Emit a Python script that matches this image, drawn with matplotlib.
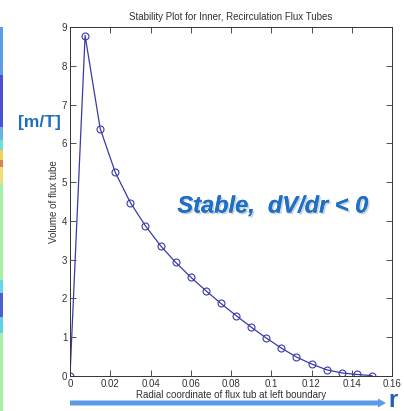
import matplotlib
matplotlib.use("Agg")
import matplotlib.pyplot as plt
from matplotlib.patches import Rectangle, FancyArrow
import matplotlib.patheffects as pe

plt.rcParams["font.family"] = ["Liberation Sans", "DejaVu Sans"]

# Data
r_vals = [0.0, 0.0075, 0.015, 0.0225, 0.03, 0.0375, 0.045, 0.0525, 0.06, 0.0675,
          0.075, 0.0825, 0.09, 0.0975, 0.105, 0.1125, 0.12, 0.1275, 0.135, 0.1425, 0.15]
vol_vals = [0.0, 8.78, 6.38, 5.25, 4.47, 3.87, 3.36, 2.93, 2.55, 2.2,
            1.87, 1.56, 1.26, 0.98, 0.72, 0.49, 0.31, 0.16, 0.08, 0.04, 0.01]
x_ticks = [0, 0.02, 0.04, 0.06, 0.08, 0.1, 0.12, 0.14, 0.16]
x_tick_labels = ["0", "0.02", "0.04", "0.06", "0.08", "0.1", "0.12", "0.14", "0.16"]
y_ticks = list(range(0, 10))

W, H = 404, 411
fig = plt.figure(figsize=(W / 100, H / 100), dpi=100)
fig.patch.set_facecolor("white")

# colored strip at left edge
strip = [(0, 27, "#ffffff"), (27, 75, "#5aa0e6"), (75, 127, "#4a50d8"), (127, 140, "#6ab0e8"),
         (140, 150, "#70e0d0"), (150, 160, "#f0d060"), (160, 167, "#e08050"), (167, 183, "#f0e070"),
         (183, 280, "#a8f0a8"), (280, 293, "#60d8e8"), (293, 317, "#4a60d0"), (317, 333, "#60d0e8"),
         (333, 411, "#a8f0a8")]
for y0, y1, c in strip:
    fig.patches.append(Rectangle((0, 1 - y1 / H), 3 / W, (y1 - y0) / H,
                                 transform=fig.transFigure, facecolor=c, edgecolor="none"))

ax = fig.add_axes([70 / W, 1 - 376 / H, (392 - 70) / W, (376 - 27) / H])
line_col = "#3a3aa8"
ax.plot(r_vals, vol_vals, color=line_col, lw=0.9, marker="o", markersize=5,
        markerfacecolor="none", markeredgecolor=line_col, markeredgewidth=0.8)

ax.set_xlim(0, 0.16)
ax.set_ylim(0, 9)
ax.set_xticks(x_ticks)
ax.set_xticklabels(x_tick_labels)
ax.set_yticks(y_ticks)
ax.tick_params(direction="in", length=4, width=0.6, labelsize=7, colors="#333333",
               top=True, right=True, pad=2)
for s in ax.spines.values():
    s.set_linewidth(0.7)
    s.set_color("#333333")

ax.set_title("Stability Plot for Inner, Recirculation Flux Tubes", fontsize=7,
             color="#333333", pad=5)
ax.set_xlabel("Radial coordinate of flux tub at left boundary", fontsize=7,
              color="#333333", labelpad=1)
ax.set_ylabel("Volume of flux tube", fontsize=7, color="#333333", labelpad=2)

# annotations
fig.text(18 / W, 1 - 123 / H, "[m/T]", fontsize=12.5, fontweight="bold", color="#1f6fc0",
         ha="left", va="center")
fig.text(273 / W, 1 - 206 / H, "Stable,  dV/dr < 0", fontsize=17, fontweight="bold",
         fontstyle="italic", color="#1f70c4", ha="center", va="center",
         path_effects=[pe.withSimplePatchShadow(offset=(1.2, -1.2), shadow_rgbFace="#9ab",
                                                alpha=0.5), pe.Normal()])

fig.patches.append(FancyArrow(70 / W, 1 - 403 / H, (386 - 70) / W, 0, width=5 / H,
                              head_width=9 / H, head_length=8 / W, length_includes_head=True,
                              transform=fig.transFigure, color="#5a9ae8", ec="none"))
fig.text(393 / W, 1 - 400 / H, "r", fontsize=17, fontweight="bold", color="#2060a8",
         ha="center", va="center")

fig.savefig("out.png", dpi=100, facecolor="white")
